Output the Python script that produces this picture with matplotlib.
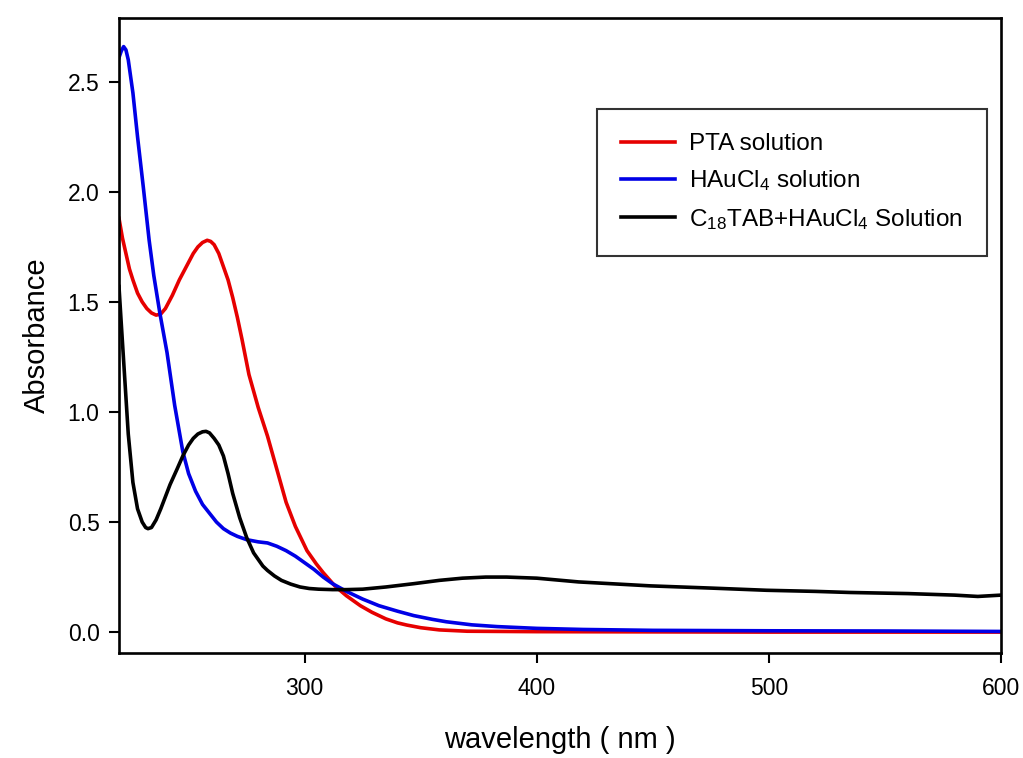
import matplotlib
matplotlib.use("Agg")
import matplotlib.pyplot as plt

plt.rcParams['font.family'] = ['Liberation Sans', 'DejaVu Sans']
plt.rcParams['mathtext.fontset'] = 'custom'
plt.rcParams['mathtext.rm'] = 'Liberation Sans'
plt.rcParams['mathtext.it'] = 'Liberation Sans'

# PTA solution
pta_x = [220, 221.5, 223, 224.5, 226, 228, 230, 232, 234, 236, 238, 240, 243,
         246, 249, 252, 254, 256, 258, 259.5, 261, 263, 265, 267, 269, 271, 273,
         276, 280, 284, 288, 292, 296, 301, 305, 308, 313, 318, 324, 329, 335,
         340, 344, 350, 358, 370, 400, 450, 500, 600]
pta_y = [1.88, 1.79, 1.72, 1.65, 1.60, 1.54, 1.50, 1.47, 1.45, 1.44, 1.445, 1.47,
         1.53, 1.60, 1.66, 1.72, 1.75, 1.77, 1.78, 1.775, 1.76, 1.72, 1.66, 1.60,
         1.52, 1.43, 1.33, 1.17, 1.02, 0.89, 0.74, 0.59, 0.48, 0.37, 0.31, 0.27,
         0.21, 0.165, 0.12, 0.09, 0.06, 0.042, 0.032, 0.02, 0.01, 0.004, 0.002,
         0.001, 0.0, 0.0]

# HAuCl4 solution
hau_x = [220, 221, 222, 223, 224, 226, 228, 230.5, 233, 235, 237.6, 240.7, 244,
         247.5, 250, 253, 256, 259, 262, 265, 268, 271, 275, 280, 284, 288, 292,
         296, 300, 304, 308, 312, 318, 325, 332, 340, 347, 355, 361, 372, 383,
         400, 420, 450, 500, 550, 600]
hau_y = [2.61, 2.64, 2.66, 2.645, 2.60, 2.45, 2.25, 2.02, 1.78, 1.62, 1.45, 1.27,
         1.03, 0.82, 0.72, 0.64, 0.58, 0.54, 0.50, 0.47, 0.45, 0.435, 0.42, 0.41,
         0.405, 0.39, 0.37, 0.345, 0.315, 0.285, 0.25, 0.22, 0.185, 0.15, 0.12,
         0.095, 0.075, 0.058, 0.047, 0.033, 0.025, 0.017, 0.012, 0.008, 0.006,
         0.005, 0.003]

# C18TAB + HAuCl4 solution
c18_x = [220, 221, 222.5, 224, 226, 228, 230, 231.5, 232.5, 234, 236, 238, 242,
         245, 247.5, 250, 252, 254, 256, 257.5, 259, 261, 263, 265, 267, 269,
         272, 275, 278, 280, 282, 284, 287, 290, 294, 298, 302, 306, 312, 318,
         325, 335, 347, 358, 368, 378, 387, 400, 418, 449, 475, 499, 520, 535,
         560, 580, 590, 600]
c18_y = [1.57, 1.40, 1.15, 0.90, 0.68, 0.56, 0.50, 0.475, 0.47, 0.475, 0.51, 0.56,
         0.67, 0.74, 0.80, 0.85, 0.88, 0.90, 0.91, 0.912, 0.905, 0.88, 0.85, 0.80,
         0.72, 0.63, 0.52, 0.43, 0.36, 0.33, 0.30, 0.28, 0.255, 0.235, 0.218,
         0.205, 0.198, 0.195, 0.193, 0.193, 0.195, 0.205, 0.22, 0.235, 0.245,
         0.25, 0.25, 0.245, 0.228, 0.21, 0.20, 0.19, 0.185, 0.18, 0.175, 0.168,
         0.162, 0.168]

labels = ['PTA solution', r'HAuCl$_4$ solution', r'C$_{18}$TAB+HAuCl$_4$ Solution']

fig = plt.figure(figsize=(10.23, 7.58), dpi=100)
ax = fig.add_axes([0.1163, 0.1385, 0.8622, 0.8378])

ax.plot(pta_x, pta_y, color='#e60000', lw=2.6, label=labels[0])
ax.plot(hau_x, hau_y, color='#0000e6', lw=2.6, label=labels[1])
ax.plot(c18_x, c18_y, color='black', lw=2.6, label=labels[2])

ax.set_xlim(220, 600)
ax.set_ylim(-0.095, 2.79)
ax.set_xticks([300, 400, 500, 600])
ax.set_yticks([0.0, 0.5, 1.0, 1.5, 2.0, 2.5])
ax.set_yticklabels(['0.0', '0.5', '1.0', '1.5', '2.0', '2.5'])

for s in ax.spines.values():
    s.set_linewidth(1.9)
ax.tick_params(axis='both', direction='out', length=7, width=1.5, labelsize=16.5)
ax.tick_params(axis='x', pad=10)
ax.tick_params(axis='y', pad=7)

ax.set_xlabel('wavelength ( nm )', fontsize=21, labelpad=19)
ax.set_ylabel('Absorbance', fontsize=21, labelpad=12)

leg = ax.legend(loc='upper left', bbox_to_anchor=(0.542, 0.857), fontsize=17.5,
                frameon=True, fancybox=False, edgecolor='black',
                handlelength=2.2, handletextpad=0.6, borderpad=1.0,
                labelspacing=0.55, borderaxespad=0)
leg.get_frame().set_linewidth(1.5)

fig.savefig('out.png', dpi=100)
